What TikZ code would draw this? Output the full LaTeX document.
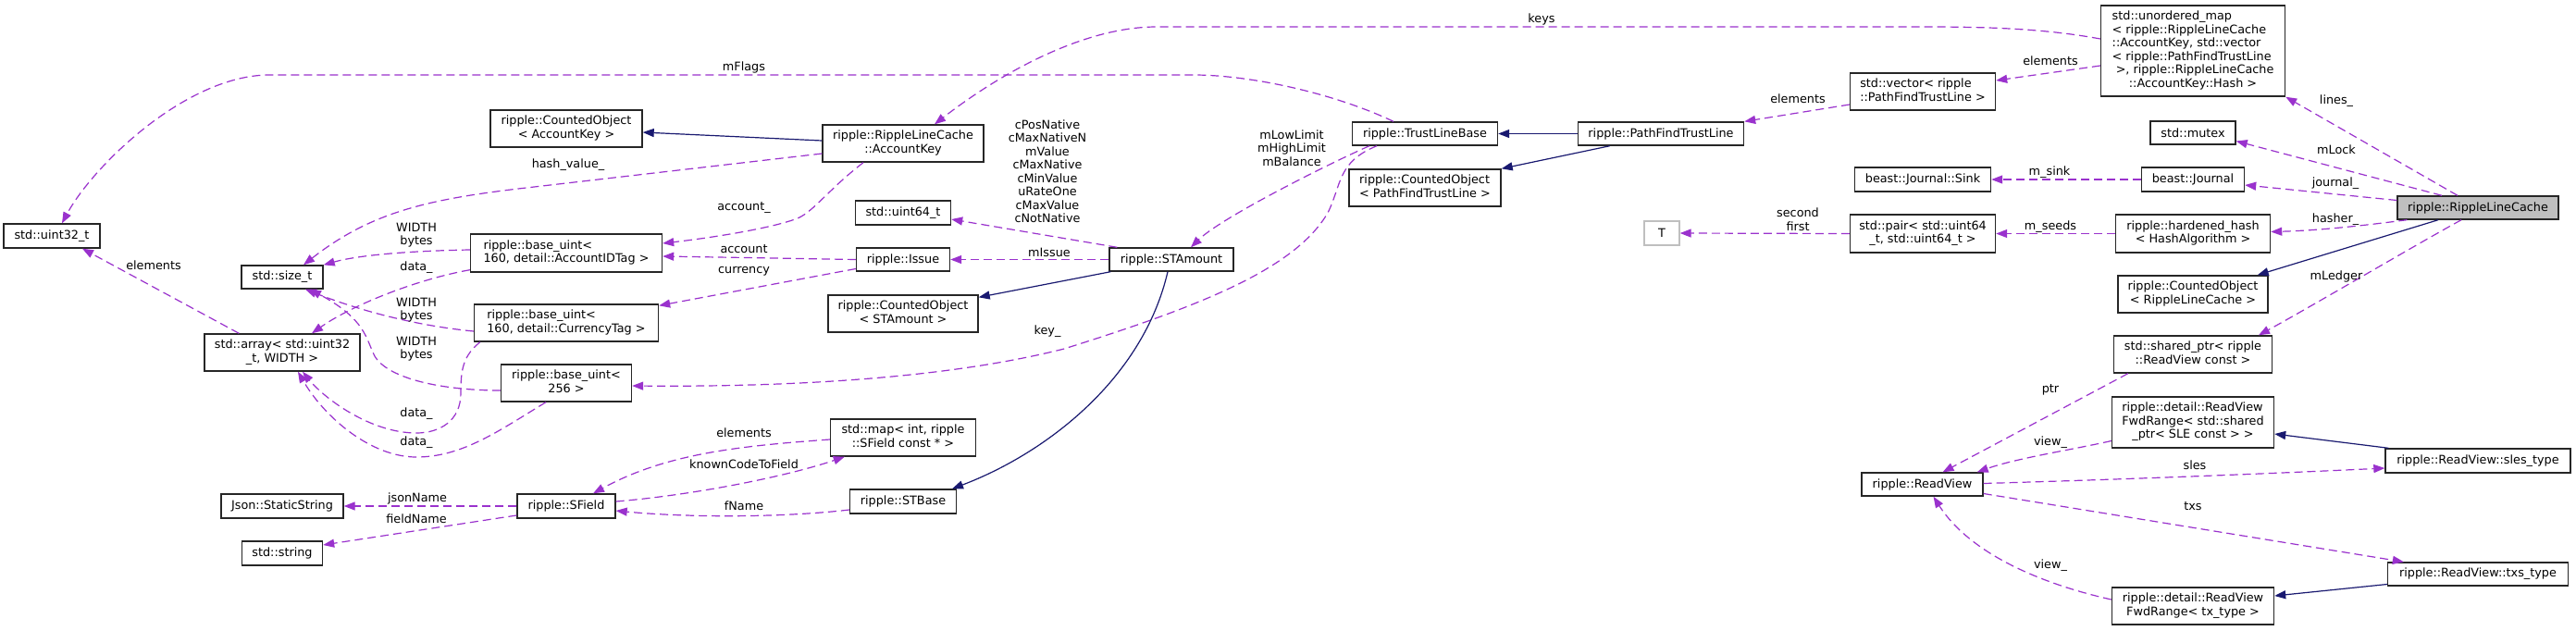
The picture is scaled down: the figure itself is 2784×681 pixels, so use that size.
\documentclass[tikz,border=0pt]{standalone}
\usepackage{fontspec}
\setmainfont{DejaVu Sans}
\usetikzlibrary{arrows.meta,calc}
\definecolor{memc}{HTML}{9A32CD}
\definecolor{inhc}{HTML}{191970}
\newcommand\dxlab[2]{\begin{tabular}{@{}l@{}}#1\\\multicolumn{1}{@{}c@{}}{#2}\end{tabular}}
\begin{document}
\begin{tikzpicture}[x=1pt,y=-1pt,
  font=\fontsize{12.8}{14.5}\selectfont,
  box/.style 2 args={draw=black!85, line width=1.4pt, fill=white, inner sep=0pt, minimum width=#1pt, minimum height=#2pt},
  mem/.style={draw=memc, line width=1.2pt, dash pattern=on 9pt off 5pt, -{Triangle[length=12pt,width=9pt]}},
  inhe/.style={draw=inhc, line width=1.2pt, -{Triangle[length=12pt,width=9pt]}},
  lab/.style={inner sep=0pt, align=center}
]
\fill[white] (0,0) rectangle (2784,681);
\useasboundingbox (0,0) rectangle (2784,681);

% nodes
\node[box={104}{26}] (uint32) at (56,255) {std::uint32\_t};
\node[box={88}{25}] (sizet) at (305,299.5) {std::size\_t};
\node[box={168}{40}] (array) at (305,381) {\dxlab{std::array< std::uint32}{\_t, WIDTH >}};
\node[box={132}{26}] (json) at (305,547) {Json::StaticString};
\node[box={87}{26}] (string) at (305,598) {std::string};
\node[box={164}{40}] (coAK) at (612,139) {\dxlab{ripple::CountedObject}{< AccountKey >}};
\node[box={207}{41}] (buAcc) at (612,273.5) {\dxlab{ripple::base\_uint<}{160, detail::AccountIDTag >}};
\node[box={199}{40}] (buCur) at (612,349) {\dxlab{ripple::base\_uint<}{160, detail::CurrencyTag >}};
\node[box={141}{40}] (bu256) at (612,414) {\dxlab{ripple::base\_uint<}{256 >}};
\node[box={106}{26}] (sfield) at (612,547) {ripple::SField};
\node[box={174}{40}] (akey) at (976,155) {\dxlab{ripple::RippleLineCache}{::AccountKey}};
\node[box={103}{26}] (uint64) at (976,230) {std::uint64\_t};
\node[box={101}{25}] (issue) at (976,280.5) {ripple::Issue};
\node[box={162}{40}] (coST) at (976,339) {\dxlab{ripple::CountedObject}{< STAmount >}};
\node[box={157}{40}] (map) at (976,473) {\dxlab{std::map< int, ripple}{::SField const * >}};
\node[box={115}{26}] (stbase) at (976,542) {ripple::STBase};
\node[box={134}{25}] (stamount) at (1266,280.5) {ripple::STAmount};
\node[box={157}{25}] (tlb) at (1540,144.5) {ripple::TrustLineBase};
\node[box={164}{40}] (coPF) at (1540,203) {\dxlab{ripple::CountedObject}{< PathFindTrustLine >}};
\node[box={179}{25}] (pftl) at (1795,144.5) {ripple::PathFindTrustLine};
\node[box={38}{26},draw=black!25] (T) at (1796,252) {T};
\node[box={157}{40}] (vector) at (2078,99) {\dxlab{std::vector< ripple}{::PathFindTrustLine >}};
\node[box={147}{26}] (sink) at (2078,194) {beast::Journal::Sink};
\node[box={157}{41}] (pair) at (2078,252.5) {\dxlab{std::pair< std::uint64}{\_t, std::uint64\_t >}};
\node[box={199}{98}] (umap) at (2370,55) {\dxlab{std::unordered\_map\\< ripple::RippleLineCache\\::AccountKey, std::vector\\< ripple::PathFindTrustLine\\\ >, ripple::RippleLineCache}{::AccountKey::Hash >}};
\node[box={92}{25}] (mutex) at (2370,143.5) {std::mutex};
\node[box={111}{26}] (journal) at (2370,194) {beast::Journal};
\node[box={167}{41}] (hh) at (2370,252.5) {\dxlab{ripple::hardened\_hash}{< HashAlgorithm >}};
\node[box={162}{40}] (coRLC) at (2370,318) {\dxlab{ripple::CountedObject}{< RippleLineCache >}};
\node[box={174}{25},fill=black!25] (rlc) at (2678,224.5) {ripple::RippleLineCache};
\node[box={171}{40}] (sptr) at (2370,383) {\dxlab{std::shared\_ptr< ripple}{::ReadView const >}};
\node[box={175}{55}] (fwdSLE) at (2370,456.5) {\dxlab{ripple::detail::ReadView\\FwdRange< std::shared}{\_ptr< SLE const > >}};
\node[box={131}{25}] (readview) at (2077.5,523.5) {ripple::ReadView};
\node[box={200}{26}] (slestype) at (2678,498) {ripple::ReadView::sles\_type};
\node[box={195}{25}] (txstype) at (2678,620.5) {ripple::ReadView::txs\_type};
\node[box={175}{40}] (fwdTX) at (2370,655) {\dxlab{ripple::detail::ReadView}{FwdRange< tx\_type >}};

% member edges
\draw[mem] ($(umap.west)+(0,-13)$) .. controls (2210,31) and (2150,29) .. (2080,29) -- (1250,29) .. controls (1170,29) and (1080,80) .. ($(akey.north)+(34,0)$);
\draw[mem] ($(tlb.north)+(-34,0)$) .. controls (1440,100) and (1350,81) .. (1290,81) -- (290,81) .. controls (200,82) and (100,180) .. ($(uint32.north)+(11,0)$);
\draw[mem] ($(akey.west)+(0,11)$) -- (560,204) .. controls (460,216) and (400,230) .. ($(sizet.north)+(23,0)$);
\draw[mem] ($(akey.south)+(-43,0)$) .. controls (895,205) and (880,228) .. (862,236) .. controls (830,248) and (760,258) .. ($(buAcc.east)+(0,-10.5)$);
\draw[mem] (issue.west) -- ($(buAcc.east)+(0,3.5)$);
\draw[mem] ($(issue.west)+(0,10)$) -- ($(buCur.north east)+(0,2)$);
\draw[mem] ($(buAcc.west)+(0,-3.5)$) .. controls (450,271) and (390,275) .. (sizet.north east);
\draw[mem] ($(buAcc.south west)+(0,-3)$) .. controls (450,302) and (380,330) .. ($(array.north)+(32,0)$);
\draw[mem] ($(buCur.west)+(0,9)$) .. controls (460,353) and (400,340) .. ($(sizet.south)+(25,0)$);
\draw[mem] ($(buCur.south west)+(7,0)$) .. controls (500,385) and (498,400) .. (498,425) .. controls (498,455) and (475,468) .. (450,468) .. controls (400,468) and (350,430) .. ($(array.south)+(22,0)$);
\draw[mem] ($(bu256.west)+(0,8)$) .. controls (480,422) and (420,410) .. (405,385) .. controls (395,365) and (395,345) .. ($(sizet.south)+(30,0)$);
\draw[mem] ($(bu256.south)+(-22,0)$) .. controls (540,465) and (500,494) .. (450,494) .. controls (400,494) and (350,450) .. ($(array.south)+(17,0)$);
\draw[mem] ($(array.north west)+(38,0)$) -- ($(uint32.south)+(33,0)$);
\draw[mem] ($(tlb.south)+(-52,0)$) .. controls (1445,175) and (1450,200) .. (1435,230) .. controls (1400,290) and (1300,330) .. (1150,377) .. controls (1000,415) and (800,418) .. ($(bu256.east)+(0,3)$);
\draw[mem] ($(tlb.south)+(-60,0)$) .. controls (1440,175) and (1320,235) .. ($(stamount.north)+(21,0)$);
\draw[mem] ($(stamount.north west)+(9,0)$) -- ($(uint64.east)+(0,7)$);
\draw[mem] (stamount.west) -- (issue.east);
\draw[mem] ($(map.west)+(0,2)$) .. controls (800,482) and (720,490) .. ($(sfield.north)+(29,0)$);
\draw[mem] ($(sfield.east)+(0,-5)$) .. controls (750,535) and (850,515) .. ($(map.south west)+(16,0)$);
\draw[mem] ($(stbase.west)+(0,9)$) .. controls (850,559) and (750,560) .. ($(sfield.east)+(0,5)$);
\draw[mem] (sfield.west) -- (json.east);
\draw[mem] ($(sfield.west)+(0,10)$) -- ($(string.east)+(0,-9)$);
\draw[mem] ($(umap.west)+(0,16)$) -- ($(vector.east)+(0,-12)$);
\draw[mem] ($(vector.west)+(0,14)$) -- (pftl.north east);
\draw[mem] ($(rlc.north)+(-22,0)$) -- (umap.south east);
\draw[mem] ($(rlc.north)+(-39,0)$) -- ($(mutex.east)+(0,9)$);
\draw[mem] ($(rlc.west)+(0,-8)$) -- ($(journal.east)+(0,6)$);
\draw[mem] (journal.west) -- (sink.east);
\draw[mem] ($(rlc.south west)+(11,0)$) .. controls (2560,243) and (2510,249) .. ($(hh.east)+(0,-2)$);
\draw[mem] (hh.west) -- (pair.east);
\draw[mem] (pair.west) -- (T.east);
\draw[mem] ($(rlc.south)+(-18,0)$) .. controls (2610,265) and (2500,330) .. ($(sptr.north)+(71,0)$);
\draw[mem] ($(sptr.south west)+(16,0)$) -- ($(readview.north)+(22,0)$);
\draw[mem] ($(fwdSLE.west)+(0,20)$) .. controls (2240,486) and (2180,495) .. ($(readview.north east)+(-7,0)$);
\draw[mem] ($(readview.east)+(0,-1)$) .. controls (2300,518) and (2450,512) .. ($(slestype.west)+(0,8)$);
\draw[mem] ($(readview.east)+(0,10)$) -- ($(txstype.north west)+(18,0)$);
\draw[mem] ($(fwdTX.west)+(0,-7)$) .. controls (2210,632) and (2130,600) .. ($(readview.south)+(12,0)$);

% inheritance edges
\draw[inhe] ($(akey.west)+(0,-3)$) -- ($(coAK.east)+(0,4)$);
\draw[inhe] (pftl.west) -- (tlb.east);
\draw[inhe] ($(pftl.south west)+(35,0)$) -- (coPF.north east);
\draw[inhe] ($(stamount.south west)+(2,0)$) -- ($(coST.north east)+(0,3)$);
\draw[inhe] ($(stamount.south)+(-4,0)$) .. controls (1235,410) and (1130,490) .. ($(stbase.north)+(53,0)$);
\draw[inhe] ($(rlc.south)+(-43,0)$) -- ($(coRLC.north east)+(-12,0)$);
\draw[inhe] ($(slestype.north west)+(4,0)$) -- ($(fwdSLE.east)+(0,12.5)$);
\draw[inhe] ($(txstype.west)+(0,11)$) -- ($(fwdTX.east)+(0,-11)$);

% labels
\node[lab] (lkeys) at (1666,21) {keys};
\node[lab] (lmflags) at (804,73) {mFlags};
\node[lab] (lhash) at (614,178) {hash\_value\_};
\node[lab] (lacc2) at (804,225) {account\_};
\node[lab] (lacc) at (804,269) {account};
\node[lab] (lcur) at (804,293) {currency};
\node[lab] (lw1) at (450,254) {WIDTH\\bytes};
\node[lab] (ld1) at (450,289) {data\_};
\node[lab] (lw2) at (450,335) {WIDTH\\bytes};
\node[lab] (lw3) at (450,377) {WIDTH\\bytes};
\node[lab] (ld2) at (450,447) {data\_};
\node[lab] (ld3) at (450,478) {data\_};
\node[lab] (lel1) at (166,287) {elements};
\node[lab] (lkey) at (1132,358) {key\_};
\node[lab] (lmlow) at (1396,160) {mLowLimit\\mHighLimit\\mBalance};
\node[lab] (lcpos) at (1132,185) {cPosNative\\cMaxNativeN\\mValue\\cMaxNative\\cMinValue\\uRateOne\\cMaxValue\\cNotNative};
\node[lab] (lmissue) at (1134,273) {mIssue};
\node[lab] (lel2) at (804,468) {elements};
\node[lab] (lkc) at (804,502) {knownCodeToField};
\node[lab] (lfname) at (804,547) {fName};
\node[lab] (ljson) at (451,539) {jsonName};
\node[lab] (lfield) at (450,561) {fieldName};
\node[lab] (lel3) at (2216,66) {elements};
\node[lab] (lel4) at (1943,107) {elements};
\node[lab] (llines) at (2525,109) {lines\_};
\node[lab] (lmlock) at (2525,162) {mLock};
\node[lab] (ljour) at (2524,198) {journal\_};
\node[lab] (lsink) at (2215,186) {m\_sink};
\node[lab] (lhasher) at (2524,237) {hasher\_};
\node[lab] (lseeds) at (2216,245) {m\_seeds};
\node[lab] (lsf) at (1943,237) {second\\first};
\node[lab] (lledger) at (2525,299) {mLedger};
\node[lab] (lptr) at (2216,421) {ptr};
\node[lab] (lview1) at (2216,478) {view\_};
\node[lab] (lsles) at (2372,503) {sles};
\node[lab] (ltxs) at (2370,547) {txs};
\node[lab] (lview2) at (2216,611) {view\_};
\end{tikzpicture}
\end{document}
